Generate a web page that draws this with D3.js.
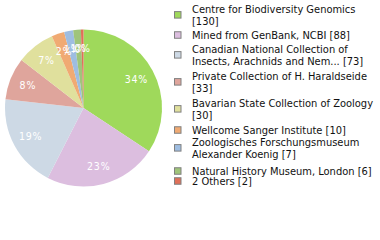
<!DOCTYPE html>
<html>
<head>
<meta charset="utf-8">
<script src="https://cdn.jsdelivr.net/npm/d3@7"></script>
<style>
  body { margin: 0; background: #fff; }
  svg { display: block; }
  .legend text { font-family: "DejaVu Sans Condensed", "DejaVu Sans", sans-serif; font-size: 11px; fill: #111; }
  .pct { font-family: "DejaVu Sans Condensed", "DejaVu Sans", sans-serif; font-size: 10.5px; letter-spacing: 0.8px; fill: #fff; }
</style>
</head>
<body>
<div id="chart"></div>
<script>
var categories = [
  "Centre for Biodiversity Genomics",
  "Mined from GenBank, NCBI",
  "Canadian National Collection of Insects, Arachnids and Nem...",
  "Private Collection of H. Haraldseide",
  "Bavarian State Collection of Zoology",
  "Wellcome Sanger Institute",
  "Zoologisches Forschungsmuseum Alexander Koenig",
  "Natural History Museum, London",
  "2 Others"
];
var counts = [130, 88, 73, 33, 30, 10, 7, 6, 2];
var colors = ["#9fd95b", "#dcbedf", "#cdd9e5", "#dfa59c", "#e0e09d", "#f0aa73", "#9ebde1", "#9fc47a", "#e07058"];

var width = 380, height = 240;
var cx = 83.5, cy = 108, radius = 78.5;
// baselines of first legend line for each entry
var legendTop = [13, 39, 53, 80, 107, 134, 146, 175, 185];
var lineH = 11.7;

var svg = d3.select("#chart")
  .append("svg")
  .attr("width", width)
  .attr("height", height);

var total = d3.sum(counts);
var pie = d3.pie().sort(null).value(function(d) { return d; });
var arcs = pie(counts);
var color = d3.scaleOrdinal().domain(d3.range(counts.length)).range(colors);

var arc = d3.arc().innerRadius(0).outerRadius(radius);
var labelArc = d3.arc().innerRadius(60).outerRadius(60);

var g = svg.append("g").attr("transform", "translate(" + cx + "," + cy + ")");

g.selectAll("path")
  .data(arcs)
  .enter()
  .append("path")
  .attr("d", arc)
  .attr("fill", function(d, i) { return color(i); });

g.selectAll("text")
  .data(arcs)
  .enter()
  .append("text")
  .attr("class", "pct")
  .attr("transform", function(d) { return "translate(" + labelArc.centroid(d) + ")"; })
  .attr("text-anchor", "middle")
  .attr("dy", "0.36em")
  .text(function(d) { return Math.floor(d.value / total * 100) + "%"; });

// legend
var legend = svg.append("g").attr("class", "legend");
var maxW = width - 192 - 2;

categories.forEach(function(name, i) {
  var t = legend.append("text").attr("x", 192).attr("y", legendTop[i]);
  var words = (name + " [" + counts[i] + "]").split(" ");
  var line = [], lines = 0;
  var tspan = t.append("tspan").attr("x", 192).attr("dy", 0);
  words.forEach(function(w) {
    line.push(w);
    tspan.text(line.join(" "));
    if (tspan.node().getComputedTextLength() > maxW && line.length > 1) {
      line.pop();
      tspan.text(line.join(" "));
      line = [w];
      lines++;
      tspan = t.append("tspan").attr("x", 192).attr("dy", lineH).text(w);
    }
  });
  var top = legendTop[i] - 8, bottom = legendTop[i] + lines * lineH;
  var mid = (top + bottom) / 2;
  legend.append("rect")
    .attr("x", 174.5)
    .attr("y", mid - 3.25)
    .attr("width", 6.5)
    .attr("height", 6.5)
    .attr("fill", color(i))
    .attr("stroke", "#808080")
    .attr("stroke-width", 1);
});
</script>
</body>
</html>
